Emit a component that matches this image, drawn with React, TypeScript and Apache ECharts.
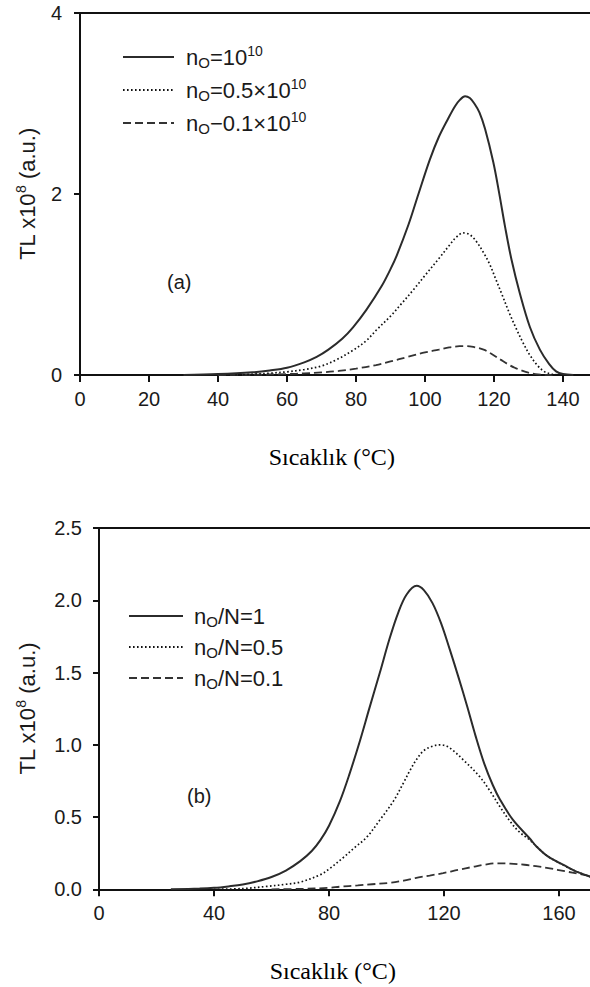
import React, { useEffect, useRef } from "react";
import * as echarts from "echarts";

// ---------- Data ----------
// Panel (a): TL x10^8 vs temperature (°C)
const aSolid: number[][] = [
  [30, 0], [40, 0.01], [50, 0.03], [55, 0.05], [60, 0.08], [65, 0.14], [68.6, 0.2], [72, 0.28],
  [76, 0.4], [79.2, 0.53], [83, 0.72], [87.4, 0.98], [90, 1.17], [91.8, 1.32], [95.2, 1.66],
  [98.1, 2.0], [101.4, 2.38], [104, 2.63], [106.8, 2.84], [108.7, 2.97], [110.1, 3.04],
  [111.6, 3.08], [113, 3.06], [114.3, 3.0], [115.8, 2.9], [117.4, 2.72], [119.8, 2.35],
  [121.5, 2.01], [123.2, 1.64], [125.1, 1.27], [127.5, 0.9], [130.4, 0.53], [133.3, 0.28],
  [136, 0.12], [138, 0.04], [140, 0.01], [143, 0],
];
const aDotted: number[][] = [
  [45, 0], [50, 0.01], [55, 0.02], [60, 0.035], [65, 0.06], [70, 0.1], [74.4, 0.17], [79, 0.27],
  [83, 0.38], [86, 0.5], [90, 0.65], [93, 0.78], [96.6, 0.94], [100, 1.1], [104.3, 1.3],
  [107, 1.43], [109, 1.52], [111.1, 1.57], [113, 1.55], [115, 1.47], [117, 1.35], [118.8, 1.22],
  [120.5, 1.06], [122.2, 0.9], [124.5, 0.68], [126.6, 0.5], [128.5, 0.35], [130.4, 0.22],
  [132.5, 0.11], [134.5, 0.04], [136.7, 0.01], [139, 0],
];
const aDashed: number[][] = [
  [40, 0], [50, 0.003], [60, 0.01], [65, 0.018], [70, 0.028], [75, 0.045], [80, 0.07],
  [85.8, 0.11], [90, 0.15], [95, 0.2], [100, 0.25], [104, 0.28], [107, 0.305], [110, 0.318],
  [112, 0.32], [114, 0.31], [117, 0.28], [119, 0.24], [121.9, 0.17], [124, 0.12], [126, 0.08],
  [128, 0.05], [130, 0.025], [132, 0.01], [134, 0.003], [137, 0],
];

// Panel (b)
const bSolid: number[][] = [
  [25, 0], [35, 0.005], [40, 0.01], [45, 0.02], [50, 0.033], [55, 0.055], [60, 0.085], [65, 0.13],
  [70, 0.195], [74, 0.265], [77, 0.34], [80, 0.44], [83.8, 0.61], [87, 0.79], [90.8, 1.03],
  [94, 1.25], [97.7, 1.5], [101, 1.73], [104, 1.91], [107, 2.04], [110.5, 2.1], [113, 2.07],
  [116, 1.98], [119, 1.84], [122, 1.66], [125, 1.47], [128, 1.27], [131, 1.06], [134, 0.87],
  [137, 0.72], [139.5, 0.62], [144, 0.48], [149.9, 0.35], [152, 0.3], [156, 0.23],
  [162.7, 0.157], [167, 0.115], [172, 0.08],
];
const bDotted: number[][] = [
  [40, 0], [50, 0.005], [58.3, 0.02], [65, 0.035], [70, 0.05], [76.9, 0.1], [80, 0.14], [85, 0.22],
  [89, 0.29], [93.1, 0.36], [97.7, 0.48], [102.4, 0.61], [106, 0.74], [108.1, 0.82], [110.5, 0.9],
  [113, 0.96], [116, 0.99], [118.6, 1.0], [121, 0.99], [123.2, 0.96], [127, 0.89], [132.4, 0.78],
  [136, 0.68], [139.5, 0.57], [143, 0.47], [146, 0.4], [149.9, 0.34], [152, 0.3], [156, 0.23],
  [162.7, 0.155], [167, 0.115], [172, 0.08],
];
const bDashed: number[][] = [
  [60, 0], [70, 0.003], [80, 0.01], [83.8, 0.018], [90, 0.027], [95, 0.035], [101.2, 0.045],
  [106, 0.06], [110, 0.078], [115, 0.095], [119.7, 0.112], [125, 0.135], [130, 0.155], [134, 0.17],
  [138.5, 0.18], [143, 0.178], [148, 0.17], [152, 0.16], [156.8, 0.145], [162, 0.125],
  [167.3, 0.105], [172, 0.085],
];

const aNames = ["n0=10^10", "n0=0.5x10^10", "n0=0.1x10^10"];
const bNames = ["n0/N=1", "n0/N=0.5", "n0/N=0.1"];
const legendRich: Record<string, string> = {
  "n0=10^10": "{m|n}{s|O}{m|=10}{p|10}",
  "n0=0.5x10^10": "{m|n}{s|O}{m|=0.5×10}{p|10}",
  "n0=0.1x10^10": "{m|n}{s|O}{m|−0.1×10}{p|10}",
  "n0/N=1": "{m|n}{s|O}{m|/N=1}",
  "n0/N=0.5": "{m|n}{s|O}{m|/N=0.5}",
  "n0/N=0.1": "{m|n}{s|O}{m|/N=0.1}",
};
const xTitle = "Sıcaklık (°C)";
const yTitleRich = "{a|TL x10}{b|8}{a| (a.u.)}";

// ---------- Styles ----------
const SANS = "'Liberation Sans', Arial, Helvetica, sans-serif";
const SERIF = "'Liberation Serif', 'Times New Roman', serif";
const INK = "#1a1a1a";

const lineStyles = [
  { color: "#2b2b2b", width: 2, type: "solid" },
  { color: "#111111", width: 1.7, type: [1.6, 2.4] },
  { color: "#333333", width: 1.8, type: [8, 4] },
];

const axisLine = { show: true, onZero: false, lineStyle: { color: "#111", width: 2 } };

function bottomX(gridIndex: number, max: number, interval: number, padRight: number) {
  return {
    type: "value",
    gridIndex,
    min: 0,
    max,
    interval,
    axisLine,
    axisTick: { show: true, length: 7, lineStyle: { color: "#111", width: 2 } },
    axisLabel: {
      show: true,
      margin: 14,
      fontSize: 20,
      fontFamily: SANS,
      color: INK,
      formatter: (v: number) => (v % interval === 0 ? String(v) : ""),
    },
    splitLine: { show: false },
    name: xTitle,
    nameLocation: "middle",
    nameGap: 70,
    nameTextStyle: { fontFamily: SERIF, fontSize: 24, color: "#000", padding: [0, padRight, 0, 0] },
  };
}
function topX(gridIndex: number, max: number) {
  return {
    type: "value",
    gridIndex,
    position: "top",
    min: 0,
    max,
    axisLine,
    axisTick: { show: false },
    axisLabel: { show: false },
    splitLine: { show: false },
  };
}
function leftY(gridIndex: number, max: number, interval: number, digits: number, margin: number, gap: number) {
  return {
    type: "value",
    gridIndex,
    min: 0,
    max,
    interval,
    axisLine,
    axisTick: { show: true, length: 6, lineStyle: { color: "#111", width: 2 } },
    axisLabel: {
      margin,
      fontSize: 20,
      fontFamily: SANS,
      color: INK,
      formatter: (v: number) => v.toFixed(digits),
    },
    splitLine: { show: false },
    name: yTitleRich,
    nameLocation: "middle",
    nameGap: gap,
    nameTextStyle: {
      fontFamily: SANS,
      color: INK,
      rich: {
        a: { fontSize: 22, lineHeight: 26, fontFamily: SANS, color: INK, verticalAlign: "middle" },
        b: { fontSize: 14, lineHeight: 14, fontFamily: SANS, color: INK, verticalAlign: "top" },
      },
    },
  };
}

function legendFor(names: string[], left: number, top: number, itemWidth: number, padLeft: number) {
  return {
    data: names,
    orient: "vertical",
    left,
    top,
    padding: 0,
    itemWidth,
    itemHeight: 14,
    itemGap: 7,
    selectedMode: false,
    itemStyle: { color: "rgba(0,0,0,0)", borderColor: "rgba(0,0,0,0)", borderWidth: 0, opacity: 0 },
    formatter: (n: string) => legendRich[n],
    textStyle: {
      fontFamily: SANS,
      color: INK,
      padding: [0, 0, 0, padLeft],
      rich: {
        m: { fontSize: 22, lineHeight: 26, fontFamily: SANS, color: INK, verticalAlign: "middle" },
        s: { fontSize: 15, lineHeight: 15, fontFamily: SANS, color: INK, verticalAlign: "bottom" },
        p: { fontSize: 14, lineHeight: 14, fontFamily: SANS, color: INK, verticalAlign: "top" },
      },
    },
  };
}

function makeSeries(name: string, data: number[][], idx: number, xi: number, yi: number) {
  return {
    type: "line",
    name,
    data,
    xAxisIndex: xi,
    yAxisIndex: yi,
    showSymbol: false,
    symbol: "none",
    smooth: 0.35,
    lineStyle: lineStyles[idx],
    itemStyle: { color: lineStyles[idx].color },
    z: 3 - idx,
  };
}

export default function App() {
  const ref = useRef<HTMLDivElement>(null);
  useEffect(() => {
    if (!ref.current) return;
    const chart = echarts.init(ref.current, undefined, { renderer: "svg" });
    const option: any = {
      animation: false,
      backgroundColor: "#ffffff",
      textStyle: { fontFamily: SANS },
      grid: [
        { left: 80, top: 13, width: 517.5, height: 362, outerBoundsMode: "none", containLabel: false },
        { left: 99, top: 528, width: 517.5, height: 361.3, outerBoundsMode: "none", containLabel: false },
      ],
      xAxis: [bottomX(0, 150, 20, 14), topX(0, 150), bottomX(1, 180, 40, 50), topX(1, 180)],
      yAxis: [leftY(0, 4, 2, 0, 18, 40), leftY(1, 2.5, 0.5, 1, 17, 59)],
      legend: [legendFor(aNames, 122, 44, 51, 7), legendFor(bNames, 128, 605, 54, 6)],
      series: [
        makeSeries(aNames[0], aSolid, 0, 0, 0),
        makeSeries(aNames[1], aDotted, 1, 0, 0),
        makeSeries(aNames[2], aDashed, 2, 0, 0),
        makeSeries(bNames[0], bSolid, 0, 2, 1),
        makeSeries(bNames[1], bDotted, 1, 2, 1),
        makeSeries(bNames[2], bDashed, 2, 2, 1),
      ],
      graphic: [
        { type: "text", left: 167, top: 272, style: { text: "(a)", fontSize: 20, fontFamily: SANS, fill: INK } },
        { type: "text", left: 187, top: 786, style: { text: "(b)", fontSize: 20, fontFamily: SANS, fill: INK } },
      ],
    };
    chart.setOption(option);
    return () => chart.dispose();
  }, []);
  return (
    <div
      ref={ref}
      style={{ position: "absolute", left: 0, top: 0, width: 590, height: 987, background: "#fff", overflow: "hidden" }}
    />
  );
}
